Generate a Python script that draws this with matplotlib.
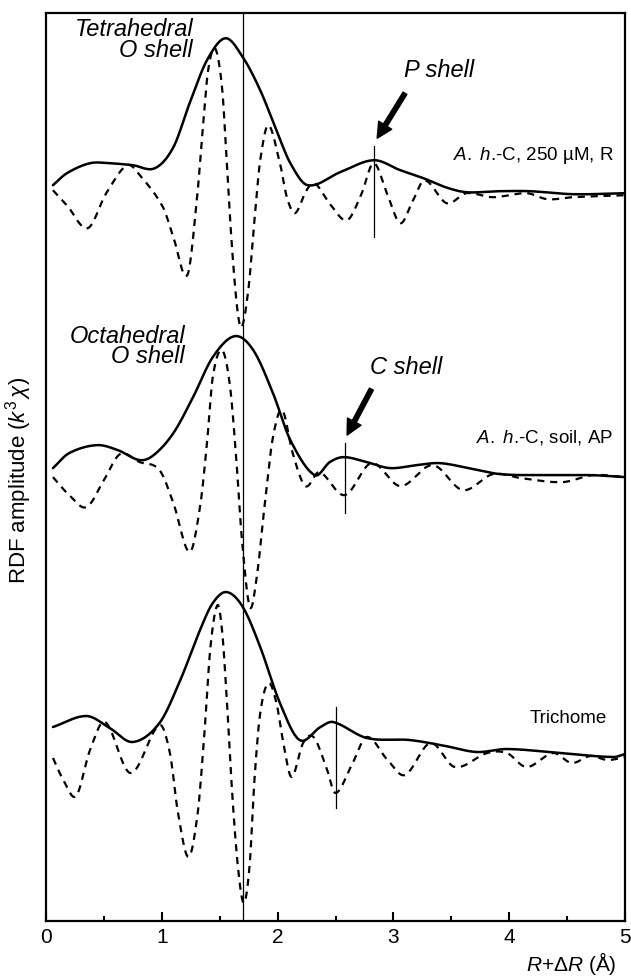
import numpy as np
import matplotlib.pyplot as plt

plt.rcParams['font.family'] = ['Liberation Sans', 'DejaVu Sans']
plt.rcParams['mathtext.fontset'] = 'custom'
plt.rcParams['mathtext.rm'] = 'Liberation Sans'
plt.rcParams['mathtext.it'] = 'Liberation Sans:italic'

# --- data (R in Angstrom, amplitude in arbitrary stacked units) ---
# top: A. h.-C, 250 uM, R
r_top_mag = [0.06, 0.18, 0.38, 0.55, 0.75, 0.94, 1.10, 1.24, 1.39, 1.55, 1.70, 1.85, 1.99,
             2.11, 2.26, 2.54, 2.83, 3.06, 3.26, 3.45, 3.63, 3.90, 4.18, 4.55, 5.0]
top_mag = [736, 748, 758, 758, 756, 753, 774, 818, 861, 883, 864, 831, 791,
           758, 736, 749, 761, 751, 743, 734, 729, 730, 730, 727, 728]
r_top_re = [0.06, 0.18, 0.36, 0.52, 0.70, 0.81, 1.01, 1.10, 1.22, 1.30, 1.36, 1.40, 1.46,
            1.52, 1.56, 1.60, 1.65, 1.69, 1.75, 1.80, 1.85, 1.92, 2.02, 2.08, 2.15, 2.25,
            2.32, 2.46, 2.60, 2.72, 2.83, 2.95, 3.06, 3.17, 3.27, 3.46, 3.63, 3.86, 4.15,
            4.33, 4.55, 5.0]
top_re = [731, 716, 693, 728, 756, 746, 714, 684, 646, 718, 801, 851, 873,
          834, 761, 684, 614, 594, 634, 701, 761, 796, 758, 724, 708, 731,
          738, 716, 701, 726, 758, 726, 698, 721, 741, 718, 728, 724, 728,
          722, 724, 726]

# middle: A. h.-C, soil, AP
r_mid_mag = [0.06, 0.20, 0.44, 0.62, 0.81, 0.93, 1.10, 1.27, 1.44, 1.63, 1.79, 1.96, 2.11,
             2.32, 2.45, 2.57, 2.77, 2.97, 3.20, 3.40, 3.65, 3.92, 4.30, 4.70, 5.0]
mid_mag = [453, 468, 476, 471, 461, 466, 488, 524, 564, 585, 571, 528, 481,
           446, 459, 464, 459, 453, 456, 458, 453, 447, 446, 446, 444]
r_mid_re = [0.06, 0.20, 0.35, 0.50, 0.64, 0.81, 0.98, 1.10, 1.24, 1.33, 1.39, 1.44, 1.52,
            1.59, 1.65, 1.69, 1.76, 1.82, 1.89, 1.96, 2.04, 2.13, 2.24, 2.36, 2.58, 2.81,
            3.06, 3.34, 3.60, 3.86, 4.10, 4.46, 4.72, 5.0]
mid_re = [444, 426, 414, 441, 467, 459, 451, 418, 369, 414, 478, 544, 571,
          534, 451, 384, 314, 344, 418, 484, 511, 468, 435, 449, 426, 458,
          435, 456, 431, 447, 443, 439, 446, 444]

# bottom: Trichome
r_bot_mag = [0.06, 0.35, 0.55, 0.75, 0.98, 1.16, 1.33, 1.44, 1.56, 1.70, 1.85, 2.02, 2.19,
             2.37, 2.48, 2.77, 3.14, 3.45, 3.72, 3.98, 4.44, 4.90, 5.0]
bot_mag = [194, 205, 193, 179, 198, 241, 291, 318, 329, 314, 274, 218, 181,
           194, 199, 183, 181, 175, 169, 172, 168, 164, 167]
r_bot_re = [0.06, 0.15, 0.26, 0.38, 0.51, 0.73, 0.98, 1.07, 1.14, 1.23, 1.31, 1.37, 1.42,
            1.48, 1.52, 1.56, 1.61, 1.66, 1.71, 1.76, 1.80, 1.85, 1.92, 1.99, 2.05, 2.12,
            2.22, 2.31, 2.42, 2.50, 2.64, 2.77, 2.95, 3.10, 3.32, 3.53, 3.81, 3.98, 4.15,
            4.38, 4.54, 4.70, 4.85, 5.0]
bot_re = [163, 141, 125, 171, 199, 148, 196, 168, 108, 64, 108, 191, 274,
          316, 291, 224, 124, 51, 18, 58, 141, 208, 238, 218, 178, 144,
          178, 184, 154, 128, 156, 184, 161, 146, 178, 154, 168, 168, 154,
          168, 158, 165, 161, 164]

sample_labels = [r'$\mathit{A.\ h}$.-C, 250 µM, R', r'$\mathit{A.\ h}$.-C, soil, AP', 'Trichome']
label_x = [4.90, 4.90, 4.845]
label_y = [766, 484, 203]

first_shell_r = 1.7
second_shell_r = [2.83, 2.58, 2.50]
second_shell_span = [(684, 775), (408, 478), (113, 214)]


def smooth(x, y, n=600):
    # cubic hermite through the read points, only for drawing
    x = np.asarray(x, float)
    y = np.asarray(y, float)
    m = np.zeros_like(y)
    m[1:-1] = (y[2:] - y[:-2]) / (x[2:] - x[:-2])
    m[0] = (y[1] - y[0]) / (x[1] - x[0])
    m[-1] = (y[-1] - y[-2]) / (x[-1] - x[-2])
    xs = np.linspace(x[0], x[-1], n)
    idx = np.clip(np.searchsorted(x, xs) - 1, 0, len(x) - 2)
    h = x[idx + 1] - x[idx]
    t = (xs - x[idx]) / h
    h00 = 2 * t**3 - 3 * t**2 + 1
    h10 = t**3 - 2 * t**2 + t
    h01 = -2 * t**3 + 3 * t**2
    h11 = t**3 - t**2
    ys = h00 * y[idx] + h10 * h * m[idx] + h01 * y[idx + 1] + h11 * h * m[idx + 1]
    return xs, ys


fig = plt.figure(figsize=(6.31, 9.76), dpi=100)
ax = fig.add_axes([0.0729, 0.0564, 0.9176, 0.930])

for rm, mag, rr, re in [(r_top_mag, top_mag, r_top_re, top_re),
                        (r_mid_mag, mid_mag, r_mid_re, mid_re),
                        (r_bot_mag, bot_mag, r_bot_re, bot_re)]:
    xs, ys = smooth(rm, mag)
    ax.plot(xs, ys, color='black', lw=1.8, solid_capstyle='round')
    xs, ys = smooth(rr, re)
    ax.plot(xs, ys, color='black', lw=1.6, dashes=(3.2, 2.6))

ax.axvline(first_shell_r, color='black', lw=0.9)
for r, (y0, y1) in zip(second_shell_r, second_shell_span):
    ax.plot([r, r], [y0, y1], color='black', lw=0.9)

for txt, x, y in zip(sample_labels, label_x, label_y):
    ax.text(x, y, txt, ha='right', va='center', fontsize=13.5)

ax.text(1.27, 903, 'Tetrahedral\nO shell', ha='right', va='top', fontsize=17,
        style='italic', linespacing=0.85)
ax.text(1.20, 596, 'Octahedral\nO shell', ha='right', va='top', fontsize=17,
        style='italic', linespacing=0.85)

arrow = dict(facecolor='black', edgecolor='black', width=3.2, headwidth=11,
             headlength=11, shrink=0)
ax.annotate('', xy=(2.86, 783), xytext=(3.10, 828), arrowprops=arrow)
ax.annotate('', xy=(2.60, 486), xytext=(2.81, 532), arrowprops=arrow)
ax.text(3.39, 851, 'P shell', ha='center', va='center', fontsize=17, style='italic')
ax.text(3.11, 554, 'C shell', ha='center', va='center', fontsize=17, style='italic')

ax.set_xlim(0, 5)
ax.set_ylim(0, 908)
ax.set_xticks([0, 1, 2, 3, 4, 5])
ax.set_xticks([0.5, 1.5, 2.5, 3.5, 4.5], minor=True)
ax.set_yticks([])
ax.tick_params(axis='x', which='major', direction='in', length=6.5, width=1.5,
               labelsize=15, pad=5)
ax.tick_params(axis='x', which='minor', direction='in', length=3.5, width=1.5)
for s in ax.spines.values():
    s.set_linewidth(1.6)

ax.set_ylabel(r'RDF amplitude ($k^3\,\chi$)', fontsize=16)
ax.yaxis.set_label_coords(-0.021, 0.485)
ax.set_xlabel(r'$R$+Δ$R$ (Å)', fontsize=15, loc='right')
ax.xaxis.set_label_coords(0.985, -0.032)

plt.savefig('out.png', dpi=100)
